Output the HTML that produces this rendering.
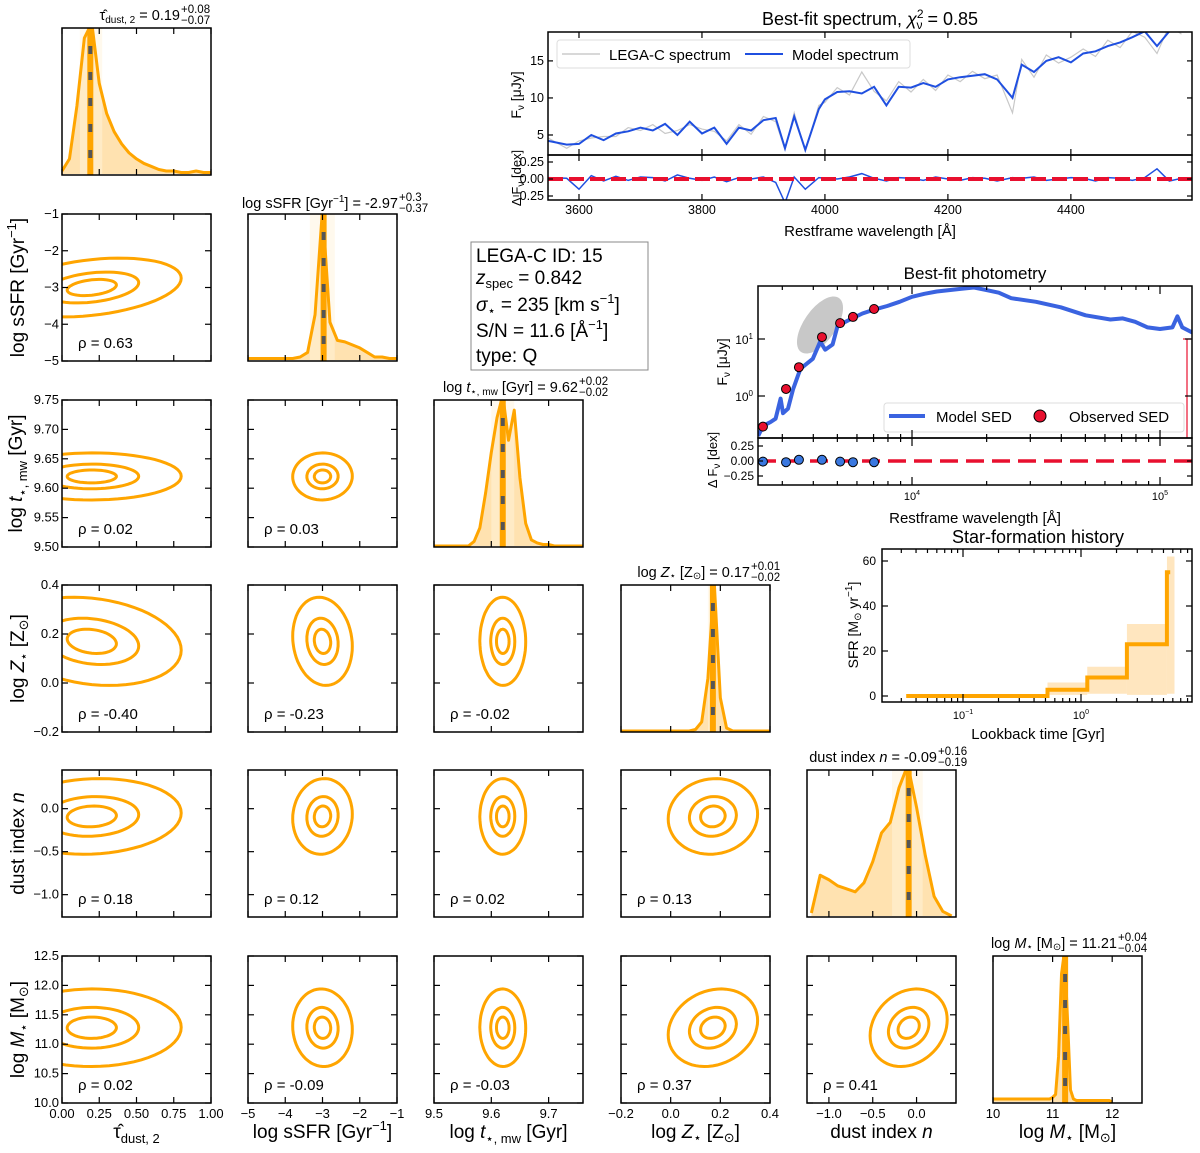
<!DOCTYPE html>
<html><head><meta charset="utf-8">
<style>
html,body{margin:0;padding:0;background:#fff;}
svg{display:block;font-family:"Liberation Sans","DejaVu Sans",sans-serif;}
</style></head>
<body>
<svg id="fig" width="1200" height="1153" viewBox="0 0 1200 1153" xmlns="http://www.w3.org/2000/svg"></svg>
<script>
// ---------- DATA ----------
const paramNames = ["tau","ssfr","tage","logz","dustn","mass"];
const paramMin = [0, -5, 9.5, -0.2, -1.25, 10];
const paramMax = [1, -1, 9.76, 0.4, 0.45, 12.5];
const rowMin = [0, -5, 9.5, -0.2, -1.26, 10];
const rowMax = [1, -1, 9.75, 0.4, 0.45, 12.5];
const medians = [0.19, -2.97, 9.62, 0.17, -0.09, 11.21];
const errLo = [0.07, 0.37, 0.02, 0.02, 0.19, 0.04];
const errHi = [0.08, 0.3, 0.02, 0.01, 0.16, 0.04];
const centers = [0.2, -3.0, 9.62, 0.17, -0.09, 11.28];
const sigmas = [0.3, 0.4, 0.02, 0.09, 0.22, 0.33];
const contourLevels = [0.55, 1.05, 2.0];
const rhoRow1 = [0.63];
const rhoRow2 = [0.02, 0.03];
const rhoRow3 = [-0.40, -0.23, -0.02];
const rhoRow4 = [0.18, 0.12, 0.02, 0.13];
const rhoRow5 = [0.02, -0.09, -0.03, 0.37, 0.41];
const histStart = [0, -5, 9.5, -0.2, -1.2, 10];
const histStep = [0.05, 0.2, 0.01, 0.025, 0.1, 0.05];
const histTau = [0.02,0.1,0.45,0.9,1.0,0.6,0.4,0.28,0.2,0.14,0.1,0.07,0.05,0.03,0.02,0.02,0.01,0.01,0.02,0.01,0.01];
const histSsfr = [0.01,0.01,0.01,0.01,0.01,0.01,0.01,0.02,0.05,0.3,1.0,0.25,0.13,0.12,0.1,0.08,0.05,0.02,0.02,0.01,0.01];
const histTage = [0,0,0,0,0,0,0,0.03,0.12,0.35,0.62,0.85,1.0,0.7,0.9,0.45,0.15,0.04,0.02,0.01,0.01,0,0,0,0,0,0];
const histLogz = [0,0,0,0,0,0,0,0,0,0,0,0,0.01,0.06,0.35,1.0,0.22,0.02,0,0,0,0,0,0,0];
const histDustn = [0.02,0.27,0.24,0.2,0.18,0.16,0.22,0.36,0.55,0.62,0.85,1.0,0.72,0.4,0.13,0.03,0];
const histMass = [0.02,0.02,0.02,0.02,0.02,0.02,0.02,0.02,0.02,0.02,0.02,0.02,0.02,0.02,0.02,0.02,0.02,0.02,0.02,0.02,0.03,0.05,0.3,0.85,1.0,0.55,0.08,0.02,0.01,0.01,0.01,0.01,0.01,0.01,0.01,0.01,0.01,0.01,0.01,0.01,0];

const specWav = [3550,3580,3600,3620,3640,3660,3680,3700,3720,3740,3760,3780,3800,3820,3840,3860,3880,3900,3920,3935,3950,3968,3990,4000,4020,4040,4060,4080,4100,4120,4140,4160,4180,4200,4220,4240,4260,4280,4305,4320,4340,4360,4380,4400,4420,4440,4460,4480,4500,4520,4540,4560,4580];
const specModel = [4.2,3.7,3.8,5.0,4.3,5.2,5.5,6.0,5.6,6.5,5.0,6.8,5.2,6.0,3.8,6.0,5.6,7.0,7.3,3.2,7.5,3.0,8.5,9.8,10.8,10.9,10.6,11.5,9.0,11.5,11.4,12.0,11.5,12.5,12.8,13.0,13.2,12.5,10.0,14.5,13.5,15.0,15.5,14.8,16.0,16.3,17.0,17.5,18.2,19.0,17.0,19.0,19.5];
const specObs = [4.6,3.2,4.2,4.6,4.8,4.8,6.0,5.6,6.4,5.2,5.6,6.4,5.8,5.5,4.2,6.4,5.1,7.5,6.8,3.0,8.0,2.8,9.0,9.4,11.4,10.4,13.5,10.9,9.6,12.2,10.8,12.5,11.0,13.1,12.2,13.6,12.6,13.1,8.0,15.2,12.8,15.8,14.7,15.5,16.6,15.6,17.8,16.8,19.0,18.2,16.0,19.8,18.6];
const specResid = [0.02,0.01,-0.15,0.05,-0.03,0.04,-0.02,0.03,0.02,-0.03,0.06,0.01,-0.02,0.03,-0.04,0.02,0.0,0.03,-0.05,-0.35,0.03,-0.15,0.02,0.01,0.0,0.03,0.08,0.01,-0.03,0.02,0.01,-0.02,0.03,0.0,-0.02,0.02,0.01,-0.03,0.02,0.01,0.03,-0.02,0.0,0.02,0.01,-0.03,0.02,0.01,-0.02,0.02,0.15,-0.03,0.01];
const specXTicks = [3600,3800,4000,4200,4400];
const specYTicks = [5,10,15];
const residYTicks = [0.25,0,-0.25];

const sedLogWav = [3.38,3.40,3.43,3.45,3.47,3.48,3.50,3.52,3.55,3.6,3.63,3.65,3.68,3.7,3.75,3.8,3.85,3.9,3.95,4.0,4.05,4.1,4.2,4.25,4.3,4.35,4.4,4.5,4.6,4.7,4.8,4.85,4.9,4.95,5.0,5.05,5.07,5.09,5.13];
const sedFlux = [0.2,0.3,0.35,0.4,0.9,0.5,0.6,1.3,3.0,4.5,9,6.5,8,17,22,28,33,38,45,55,62,68,76,80,72,65,52,45,36,26,22,23,20,16,15,16,25,16,13];
const obsLogWav = [3.399,3.492,3.544,3.637,3.710,3.762,3.847];
const obsFlux = [0.29,1.33,3.2,10.8,19,24.4,33.6];
const obsResid = [-0.01,-0.02,0.02,0.02,-0.01,-0.02,-0.02];

const sfhEdges = [0.033,0.52,1.13,2.45,5.35,5.7];
const sfhValues = [0,2.8,8.2,23,55];
const sfhLow = [0,0.5,1,0.5,1];
const sfhHigh = [0,6,13,32,62];
const sfhYTicks = [0,20,40,60];

// ---------- HELPERS ----------
const NS="http://www.w3.org/2000/svg";
const svg=document.getElementById('fig');
function el(tag,attrs,parent){const e=document.createElementNS(NS,tag);for(const k in attrs)e.setAttribute(k,attrs[k]);(parent||svg).appendChild(e);return e;}
function txt(s,x,y,size,anchor,parent,extra){const t=el('text',Object.assign({x:x,y:y,'font-size':size,'text-anchor':anchor||'middle',fill:'#000'},extra||{}),parent);t.textContent=s;return t;}
const OR="#ffa500";
function frame(x,y,w,h,name){
  const r=el('rect',{x:x,y:y,width:w,height:h,fill:'none',stroke:'#000','stroke-width':1.5});
  
  
}
function tickX(x,y0,y1,len){el('line',{x1:x,x2:x,y1:y0,y2:y0+len,stroke:'#000','stroke-width':1.2});el('line',{x1:x,x2:x,y1:y1,y2:y1-len,stroke:'#000','stroke-width':1.2});}
function tickY(y,x0,x1,len){el('line',{x1:x0,x2:x0+len,y1:y,y2:y,stroke:'#000','stroke-width':1.2});el('line',{x1:x1,x2:x1-len,y1:y,y2:y,stroke:'#000','stroke-width':1.2});}

// ---------- CORNER PLOT ----------
const colX=[62,248,434,621,807,993], rowY=[28,214,400,585,770,956], PW=149, PH=147;
const xTicks=[[0,0.25,0.5,0.75,1.0],[-5,-4,-3,-2,-1],[9.5,9.6,9.7],[-0.2,0,0.2,0.4],[-1,-0.5,0],[10,11,12]];
const xTickLbl=[["0.00","0.25","0.50","0.75","1.00"],["−5","−4","−3","−2","−1"],["9.5","9.6","9.7"],["−0.2","0.0","0.2","0.4"],["−1.0","−0.5","0.0"],["10","11","12"]];
const yTicks=[[],[-5,-4,-3,-2,-1],[9.5,9.55,9.6,9.65,9.7,9.75],[-0.2,0,0.2,0.4],[-1,-0.5,0],[10,10.5,11,11.5,12,12.5]];
const yTickLbl=[[],["−5","−4","−3","−2","−1"],["9.50","9.55","9.60","9.65","9.70","9.75"],["−0.2","0.0","0.2","0.4"],["−1.0","−0.5","0.0"],["10.0","10.5","11.0","11.5","12.0","12.5"]];
const hists=[histTau,histSsfr,histTage,histLogz,histDustn,histMass];
const rhos=[[],rhoRow1,rhoRow2,rhoRow3,rhoRow4,rhoRow5];
function sxF(j){return v=>colX[j]+(v-paramMin[j])/(paramMax[j]-paramMin[j])*PW;}
function syF(i){return v=>rowY[i]+PH-(v-rowMin[i])/(rowMax[i]-rowMin[i])*PH;}

const defs=el('defs',{});
for(let i=0;i<6;i++){
  for(let j=0;j<=i;j++){
    const cp=el('clipPath',{id:'c'+i+'_'+j},defs);
    el('rect',{x:colX[j],y:rowY[i],width:PW,height:PH},cp);
  }
}

for(let i=0;i<6;i++){
  for(let j=0;j<=i;j++){
    const x0=colX[j],y0=rowY[i];
    const sx=sxF(j);
    const g=el('g',{'clip-path':'url(#c'+i+'_'+j+')'});
    if(i===j){
      
      
      const h=hists[i]; const mx=Math.max(...h);
      const hy=v=>y0+PH-1-(v/mx)*(PH+4);
      let pts=[];
      for(let k=0;k<h.length;k++){pts.push([sx(histStart[i]+k*histStep[i]),hy(h[k])]);}
      const base=y0+PH-1;
      let d='M'+pts[0][0]+','+base+' '+pts.map(p=>'L'+p[0]+','+p[1]).join(' ')+' L'+pts[pts.length-1][0]+','+base+' Z';
      el('path',{d:d,fill:'#ffe2b0',stroke:'none'},g);
      el('rect',{x:sx(medians[i]-errLo[i]),y:y0,width:sx(medians[i]+errHi[i])-sx(medians[i]-errLo[i]),height:PH,fill:'#fff3dc',opacity:0.5},g);
      el('path',{d:'M'+pts.map(p=>p[0]+','+p[1]).join(' L'),fill:'none',stroke:OR,'stroke-width':3,'stroke-linejoin':'round'},g);
      const mxp=sx(medians[i]);
      el('line',{x1:mxp,x2:mxp,y1:y0,y2:y0+PH,stroke:OR,'stroke-width':6},g);
      el('line',{x1:mxp,x2:mxp,y1:y0,y2:y0+PH,stroke:'#555','stroke-width':4,'stroke-dasharray':'8 18','stroke-dashoffset':-18},g);
    } else {
      
      
      const sy=syF(i);
      const rho=rhos[i][j]*0.5;
      for(const L of contourLevels){
        let d='';
        for(let k=0;k<=64;k++){
          const t=k/64*2*Math.PI;
          const vx=centers[j]+L*sigmas[j]*Math.cos(t);
          const vy=centers[i]+L*sigmas[i]*(rho*Math.cos(t)+Math.sqrt(1-rho*rho)*Math.sin(t));
          d+=(k?'L':'M')+sx(vx).toFixed(1)+','+sy(vy).toFixed(1);
        }
        el('path',{d:d+'Z',fill:'none',stroke:OR,'stroke-width':3},g);
      }
      const rt=txt('ρ = '+rhos[i][j].toFixed(2),x0+16,y0+PH-13,15,'start');
      
      
    }
    frame(x0,y0,PW,PH,'panel-'+paramNames[i]+'-'+paramNames[j]);
    xTicks[j].forEach((v,k)=>{tickX(sx(v),y0,y0+PH,6);
      if(i===5){const t=txt(xTickLbl[j][k],sx(v),y0+PH+15,13,'middle');
        
        }});
    if(i!==j){const sy=syF(i);yTicks[i].forEach((v,k)=>{tickY(sy(v),x0,x0+PW,6);
      if(j===0){const t=txt(yTickLbl[i][k],x0-3,sy(v)+4,13,'end');
        
        }});}
  }
}

function title(main,x,y,up,down,name){
  const g=el('g',{});
  
  
  const t=el('text',{x:x,y:y,'font-size':14.5,'text-anchor':'end'},g);t.innerHTML=main;
  txt(up,x+1,y-7,11.5,'start',g);txt(down,x+1,y+4,11.5,'start',g);
}
title('<tspan>τ̂</tspan><tspan font-size="10" dy="3">dust, 2</tspan><tspan dy="-3"> = 0.19</tspan>',180,20,'+0.08','−0.07','title-tau');
title('log sSFR [Gyr<tspan font-size="10" dy="-6">−1</tspan><tspan dy="6">] = -2.97</tspan>',398,208,'+0.3','−0.37','title-ssfr');
title('log <tspan font-style="italic">t</tspan><tspan font-size="10" dy="3">⋆, mw</tspan><tspan dy="-3"> [Gyr] = 9.62</tspan>',578,392,'+0.02','−0.02','title-tage');
title('log <tspan font-style="italic">Z</tspan><tspan font-size="10" dy="2">⋆</tspan><tspan dy="-2"> [Z</tspan><tspan font-size="10" dy="2">⊙</tspan><tspan dy="-2">] = 0.17</tspan>',750,577,'+0.01','−0.02','title-logz');
title('dust index <tspan font-style="italic">n</tspan> = -0.09',937,762,'+0.16','−0.19','title-dustn');
title('log <tspan font-style="italic">M</tspan><tspan font-size="10" dy="2">⋆</tspan><tspan dy="-2"> [M</tspan><tspan font-size="10" dy="2">⊙</tspan><tspan dy="-2">] = 11.21</tspan>',1117,948,'+0.04','−0.04','title-mass');

const xLabels=['<tspan>τ̂</tspan><tspan font-size="13" dy="5">dust, 2</tspan>','log sSFR [Gyr<tspan font-size="13" dy="-8">−1</tspan><tspan dy="8">]</tspan>','log <tspan font-style="italic">t</tspan><tspan font-size="13" dy="5">⋆, mw</tspan><tspan dy="-5"> [Gyr]</tspan>','log <tspan font-style="italic">Z</tspan><tspan font-size="13" dy="4">⋆</tspan><tspan dy="-4"> [Z</tspan><tspan font-size="13" dy="4">⊙</tspan><tspan dy="-4">]</tspan>','dust index <tspan font-style="italic">n</tspan>','log <tspan font-style="italic">M</tspan><tspan font-size="13" dy="4">⋆</tspan><tspan dy="-4"> [M</tspan><tspan font-size="13" dy="4">⊙</tspan><tspan dy="-4">]</tspan>'];
for(let j=0;j<6;j++){const t=el('text',{x:colX[j]+PW/2,y:1138,'font-size':19,'text-anchor':'middle'});t.innerHTML=xLabels[j];
  
  }
for(let i=1;i<6;i++){const cy=rowY[i]+PH/2, cx=i===2?22:24;const t=el('text',{x:cx,y:cy,'font-size':19,'text-anchor':'middle',transform:'rotate(-90 '+cx+' '+cy+')'});t.innerHTML=xLabels[i];
  
  }

// ---------- INFO BOX ----------
(function(){
  const g=el('g',{});
  
  
  el('rect',{x:471,y:242,width:177,height:128,fill:'#fff',stroke:'#888','stroke-width':1},g);
  const lines=['LEGA-C ID: 15','<tspan font-style="italic">z</tspan><tspan font-size="13" dy="4">spec</tspan><tspan dy="-4"> = 0.842</tspan>','<tspan font-style="italic">σ</tspan><tspan font-size="13" dy="4">⋆</tspan><tspan dy="-4"> = 235 [km s</tspan><tspan font-size="13" dy="-8">−1</tspan><tspan dy="8">]</tspan>','S/N = 11.6 [Å<tspan font-size="13" dy="-8">−1</tspan><tspan dy="8">]</tspan>','type: Q'];
  const ys=[262,284,311,337,362];
  lines.forEach((s,k)=>{const t=el('text',{x:476,y:ys[k],'font-size':19},g);t.innerHTML=s;});
})();

// ---------- SPECTRUM ----------
(function(){
  const X0=548,X1=1192,Y0=32,Y1=155,RY1=200;
  const sx=v=>X0+(v-3549.6)/(4597-3549.6)*(X1-X0);
  const sy=v=>Y0+(18.9-v)/(18.9-2.3)*(Y1-Y0);
  const ry=v=>179-v*(17/0.25);
  const cp=el('clipPath',{id:'specclip'},defs);el('rect',{x:X0,y:Y0,width:X1-X0,height:Y1-Y0},cp);
  const cp2=el('clipPath',{id:'resclip'},defs);el('rect',{x:X0,y:Y1,width:X1-X0,height:RY1-Y1},cp2);
  const g=el('g',{'clip-path':'url(#specclip)'});
  
  
  const o=el('path',{d:'M'+specWav.map((w,k)=>sx(w).toFixed(1)+','+sy(specObs[k]).toFixed(1)).join(' L'),fill:'none',stroke:'#c8c8c8','stroke-width':1.2},g);
  
  
  const m=el('path',{d:'M'+specWav.map((w,k)=>sx(w).toFixed(1)+','+sy(specModel[k]).toFixed(1)).join(' L'),fill:'none',stroke:'#1f4fe0','stroke-width':2},g);
  
  
  const lg=el('g',{});
  
  
  el('rect',{x:557,y:40,width:353,height:28,fill:'#fff',stroke:'#ddd',rx:3},lg);
  el('line',{x1:562,x2:600,y1:54,y2:54,stroke:'#ccc','stroke-width':1.5},lg);
  txt('LEGA-C spectrum',609,60,15,'start',lg);
  el('line',{x1:745,x2:783,y1:54,y2:54,stroke:'#1f4fe0','stroke-width':2},lg);
  txt('Model spectrum',792,60,15,'start',lg);
  frame(X0,Y0,X1-X0,Y1-Y0,'spectrum-frame');
  const rg=el('g',{'clip-path':'url(#resclip)'});
  
  
  el('path',{d:'M'+specWav.map((w,k)=>sx(w).toFixed(1)+','+ry(specResid[k]).toFixed(1)).join(' L'),fill:'none',stroke:'#1f4fe0','stroke-width':1.5},rg);
  el('line',{x1:X0,x2:X1,y1:ry(0),y2:ry(0),stroke:'#e8102f','stroke-width':4,'stroke-dasharray':'15 6'},rg);
  frame(X0,Y1,X1-X0,RY1-Y1,'spectrum-residual-frame');
  specXTicks.forEach(v=>{tickX(sx(v),Y0,Y1,6);tickX(sx(v),Y1,RY1,6);const t=txt(String(v),sx(v),RY1+14,12.5,'middle');
    
    });
  specYTicks.forEach(v=>{tickY(sy(v),X0,X1,5);txt(String(v),X0-4,sy(v)+4,12.5,'end');});
  residYTicks.forEach(v=>{tickY(ry(v),X0,X1,5);txt(v===0?'0.00':(v>0?'0.25':'−0.25'),X0-4,ry(v)+4,12.5,'end');});
  txt('Restframe wavelength [Å]',870,236,15,'middle');
  const tt=el('text',{x:870,y:25,'font-size':18,'text-anchor':'middle'});tt.innerHTML='Best-fit spectrum, <tspan font-style="italic">χ</tspan><tspan font-size="12" dy="-7">2</tspan><tspan font-size="12" dy="11" dx="-7">ν</tspan><tspan dy="-4"> = 0.85</tspan>';
  
  
  let yl=el('text',{x:521,y:95,'font-size':14,'text-anchor':'middle',transform:'rotate(-90 521 95)'});yl.innerHTML='F<tspan font-size="10" dy="3">ν</tspan><tspan dy="-3"> [μJy]</tspan>';
  yl=el('text',{x:521,y:178,'font-size':13,'text-anchor':'middle',transform:'rotate(-90 521 178)'});yl.innerHTML='Δ F<tspan font-size="10" dy="3">ν</tspan><tspan dy="-3"> [dex]</tspan>';
})();

// ---------- PHOTOMETRY ----------
(function(){
  const X0=758,X1=1192,Y0=286,Y1=438,RY1=485;
  const sx=lw=>X0+(lw-3.379)*248;
  const sy=f=>396-Math.log10(f)*57;
  const ry=v=>461-v*(15/0.25);
  const cp=el('clipPath',{id:'photclip'},defs);el('rect',{x:X0,y:Y0,width:X1-X0,height:Y1-Y0},cp);
  const g=el('g',{'clip-path':'url(#photclip)'});
  
  
  el('ellipse',{cx:820,cy:325,rx:16,ry:33,transform:'rotate(35 820 325)',fill:'#c8c8c8'},g);
  const m=el('path',{d:'M'+sedLogWav.map((w,k)=>sx(w).toFixed(1)+','+sy(sedFlux[k]).toFixed(1)).join(' L'),fill:'none',stroke:'#3a63e0','stroke-width':4,'stroke-linejoin':'round'},g);
  
  
  el('line',{x1:1187,x2:1187,y1:339,y2:438,stroke:'#e8102f','stroke-width':1.2},g);
  el('line',{x1:1183,x2:1191,y1:339,y2:339,stroke:'#e8102f','stroke-width':1.2},g);
  obsLogWav.forEach((w,k)=>{const c=el('circle',{cx:sx(w),cy:sy(obsFlux[k]),r:4.5,fill:'#e8102f',stroke:'#000','stroke-width':1},g);
    
    });
  const lg=el('g',{});
  
  
  el('rect',{x:884,y:403,width:300,height:29,fill:'#fff',stroke:'#ddd',rx:3},lg);
  el('line',{x1:889,x2:925,y1:416,y2:416,stroke:'#3a63e0','stroke-width':4},lg);
  txt('Model SED',936,422,15,'start',lg);
  el('circle',{cx:1040,cy:416,r:6,fill:'#e8102f',stroke:'#000','stroke-width':1},lg);
  txt('Observed SED',1069,422,15,'start',lg);
  frame(X0,Y0,X1-X0,Y1-Y0,'photometry-frame');
  el('line',{x1:X0,x2:X1,y1:ry(0),y2:ry(0),stroke:'#e8102f','stroke-width':3.5,'stroke-dasharray':'18 8'});
  obsLogWav.forEach((w,k)=>{const c=el('circle',{cx:sx(w),cy:ry(obsResid[k]),r:4.5,fill:'#3a78e0',stroke:'#000','stroke-width':1});
    
    });
  frame(X0,Y1,X1-X0,RY1-Y1,'photometry-residual-frame');
  [4,5].forEach(p=>{tickX(sx(p),Y0,Y1,8);tickX(sx(p),Y1,RY1,8);
    const t=el('text',{x:sx(p),y:RY1+15,'font-size':11,'text-anchor':'middle'});t.innerHTML='10<tspan font-size="7" dy="-5">'+p+'</tspan>';});
  [3.477,3.602,3.699,3.778,3.845,3.903,3.954,4.301,4.477,4.602,4.699,4.778,4.845,4.903,4.954].forEach(p=>{tickX(sx(p),Y0,Y1,4);tickX(sx(p),Y1,RY1,4);});
  [0,1].forEach(p=>{tickY(sy(Math.pow(10,p)),X0,X1,7);const t=el('text',{x:X0-5,y:sy(Math.pow(10,p))+5,'font-size':12,'text-anchor':'end'});t.innerHTML='10<tspan font-size="8" dy="-5">'+p+'</tspan>';});
  [0.25,0,-0.25].forEach(v=>{tickY(ry(v),X0,X1,5);txt(v===0?'0.00':(v>0?'0.25':'−0.25'),X0-4,ry(v)+4,12,'end');});
  txt('Best-fit photometry',975,279,17,'middle');
  txt('Restframe wavelength [Å]',975,523,15,'middle');
  let yl=el('text',{x:727,y:362,'font-size':14,'text-anchor':'middle',transform:'rotate(-90 727 362)'});yl.innerHTML='F<tspan font-size="10" dy="3">ν</tspan><tspan dy="-3"> [μJy]</tspan>';
  yl=el('text',{x:717,y:460,'font-size':13,'text-anchor':'middle',transform:'rotate(-90 717 460)'});yl.innerHTML='Δ F<tspan font-size="10" dy="3">ν</tspan><tspan dy="-3"> [dex]</tspan>';
})();

// ---------- SFH ----------
(function(){
  const X0=882,X1=1192,Y0=549,Y1=702;
  const sx=t=>963+(Math.log10(t)+1)*118;
  const sy=v=>696-v*2.25;
  const g=el('g',{});
  
  
  for(let k=0;k<sfhValues.length;k++){
    const b=el('rect',{x:sx(sfhEdges[k]),y:sy(sfhHigh[k]),width:sx(sfhEdges[k+1]+(k===4?0.5:0))-sx(sfhEdges[k]),height:sy(sfhLow[k])-sy(sfhHigh[k]),fill:'#ffe6bf'},g);
    
    
  }
  let d='';
  for(let k=0;k<sfhValues.length;k++){d+=(k?'L':'M')+sx(sfhEdges[k]).toFixed(1)+','+sy(sfhValues[k]).toFixed(1)+' L'+sx(sfhEdges[k+1]).toFixed(1)+','+sy(sfhValues[k]).toFixed(1)+' ';}
  const l=el('path',{d:d,fill:'none',stroke:OR,'stroke-width':4},g);
  
  
  frame(X0,Y0,X1-X0,Y1-Y0,'sfh-frame');
  sfhYTicks.forEach(v=>{tickY(sy(v),X0,X1,6);txt(String(v),X0-6,sy(v)+4,12,'end');});
  [-1,0].forEach(p=>{tickX(sx(Math.pow(10,p)),Y0,Y1,8);const t=el('text',{x:sx(Math.pow(10,p)),y:Y1+17,'font-size':11,'text-anchor':'middle'});t.innerHTML='10<tspan font-size="7" dy="-5">'+(p<0?'−1':'0')+'</tspan>';});
  [0.03,0.04,0.05,0.06,0.07,0.08,0.09,0.2,0.3,0.4,0.5,0.6,0.7,0.8,0.9,2,3,4,5,6,7,8].forEach(t=>{tickX(sx(t),Y0,Y1,4);});
  txt('Star-formation history',1038,543,18,'middle');
  txt('Lookback time [Gyr]',1038,739,15,'middle');
  const yl=el('text',{x:858,y:625,'font-size':14,'text-anchor':'middle',transform:'rotate(-90 858 625)'});yl.innerHTML='SFR [M<tspan font-size="10" dy="3">⊙</tspan><tspan dy="-3"> yr</tspan><tspan font-size="10" dy="-6">−1</tspan><tspan dy="6">]</tspan>';
})();
</script>
</body></html>
